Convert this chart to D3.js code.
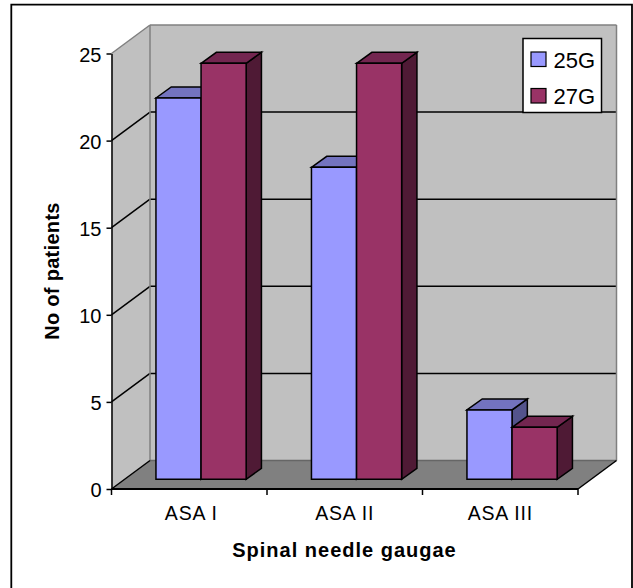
<!DOCTYPE html>
<html><head><meta charset="utf-8">
<script src="https://cdn.jsdelivr.net/npm/d3@7"></script>
<style>html,body{margin:0;padding:0;background:#fff}svg{display:block}text{font-family:"Liberation Sans",Arial,sans-serif;fill:#000}</style>
</head><body><svg id="c" width="633" height="588"></svg>
<script>
const categories=["ASA I","ASA II","ASA III"];
const seriesNames=["25G","27G"];
const values25G=[22,18,4];
const values27G=[24,24,3];
const yTicks=[0,5,10,15,20,25];
const faces={"25G":["#9999FF","#7373BF","#53538C"],"27G":["#993366","#732650","#4F1A35"]};

const svg=d3.select("#c");
const x0=111.5,x1=578,yB=489,yT=53.5,dx=38.5,dy=-28.5;
const y=d3.scaleLinear().domain([0,25]).range([yB,yT]);
const yBar=d3.scaleLinear().domain([0,25]).range([479.3,46]);
const x=d3.scaleBand().domain(categories).range([x0,x1]).paddingInner(0.42).paddingOuter(0.21);
const xs=d3.scaleBand().domain(seriesNames).range([0,x.bandwidth()]);
const poly=(pts,fill,stroke,sw)=>svg.append("polygon").attr("points",pts.map(p=>p.join(",")).join(" ")).attr("fill",fill).attr("stroke",stroke||"none").attr("stroke-width",sw||0).attr("stroke-linejoin","miter");
const line=(a,b,c,w)=>svg.append("line").attr("x1",a[0]).attr("y1",a[1]).attr("x2",b[0]).attr("y2",b[1]).attr("stroke",c).attr("stroke-width",w);

// frame
svg.append("path").attr("d","M11.3,588V4.7H632V588").attr("fill","none").attr("stroke","#000").attr("stroke-width",1.8);

// walls and floor
poly([[x0+dx,yT+dy],[x1+dx,yT+dy],[x1+dx,yB+dy],[x0+dx,yB+dy]],"#C0C0C0");
poly([[x0,yT],[x0+dx,yT+dy],[x0+dx,yB+dy],[x0,yB]],"#C0C0C0");
poly([[x0,yB],[x0+dx,yB+dy],[x1+dx,yB+dy],[x1,yB]],"#808080");

// gridlines
yTicks.slice(1,-1).forEach(t=>{
  line([x0,y(t)],[x0+dx,y(t)+dy],"#000",1.5);
  line([x0+dx,y(t)+dy],[x1+dx,y(t)+dy],"#000",1.5);
});
// wall edges
line([x0,yT],[x0+dx,yT+dy],"#808080",1.5);
line([x0+dx,yT+dy],[x1+dx,yT+dy],"#808080",1.5);
line([x0+dx,yT+dy],[x0+dx,yB+dy],"#808080",1.5);
line([x1+dx,yT+dy],[x1+dx,yB+dy],"#808080",1.5);
line([x0+dx,yB+dy],[x1+dx,yB+dy],"#666",1.5);
line([x0,yB],[x0+dx,yB+dy],"#000",1.5);
line([x1,yB],[x1+dx,yB+dy],"#000",1.5);

// axes
const yAxis=d3.axisLeft(y).tickValues(yTicks).tickSize(5).tickSizeOuter(0);
const gy=svg.append("g").attr("transform",`translate(${x0},0)`).call(yAxis);
gy.selectAll("path,line").attr("stroke","#000").attr("stroke-width",1.5);
gy.selectAll("text").attr("x",-10).attr("dy","0.38em").style("font-size","20px").style("font-family",'"Liberation Sans"').attr("fill","#000");
const edges=d3.range(0,categories.length+1).map(i=>x0+i*x.step());
const gx=svg.append("g").attr("transform",`translate(0,${yB})`);
gx.append("line").attr("x1",x0).attr("x2",x1).attr("stroke","#000").attr("stroke-width",1.8);
gx.selectAll(".t").data(edges).join("line").attr("x1",d=>d).attr("x2",d=>d).attr("y1",0).attr("y2",6).attr("stroke","#000").attr("stroke-width",1.5);
svg.selectAll(".cat").data(categories).join("text").attr("x",d=>x(d)+x.bandwidth()/2+(d==="ASA I"?2:0)).attr("y",520).attr("text-anchor","middle").style("font-size","19.5px").style("letter-spacing","0.8px").text(d=>d);

// bars
const frontDx=11.8, barDx=15.3, barDy=-11;
const bars=[];
categories.forEach((c,i)=>seriesNames.forEach((s,j)=>bars.push({c,s,v:(j?values27G:values25G)[i]})));
bars.forEach(b=>{
  const l=x(b.c)+xs(b.s)+frontDx, r=l+xs.bandwidth(), t=yBar(b.v), bt=yBar(0);
  const f=faces[b.s];
  poly([[r,t],[r+barDx,t+barDy],[r+barDx,bt+barDy],[r,bt]],f[2],"#000",1.5);
  poly([[l,t],[l+barDx,t+barDy],[r+barDx,t+barDy],[r,t]],f[1],"#000",1.5);
  poly([[l,t],[r,t],[r,bt],[l,bt]],f[0],"#000",1.5);
});

// axis titles
svg.append("text").attr("transform","translate(59,271) rotate(-90)").attr("text-anchor","middle").style("font-size","20px").style("font-weight","bold").style("letter-spacing","0.3px").text("No of patients");
svg.append("text").attr("x",344.5).attr("y",557).attr("text-anchor","middle").style("font-size","20px").style("font-weight","bold").style("letter-spacing","1px").text("Spinal needle gaugae");

// legend
svg.append("rect").attr("x",523).attr("y",38.5).attr("width",78.5).attr("height",74).attr("fill","#fff").attr("stroke","#000").attr("stroke-width",1.5);
const ly=d3.scalePoint().domain(seriesNames).range([59,95.5]);
seriesNames.forEach(s=>{
  svg.append("rect").attr("x",531).attr("y",ly(s)-7).attr("width",15).attr("height",14.5).attr("fill",faces[s][0]).attr("stroke","#000").attr("stroke-width",1.2);
  svg.append("text").attr("x",553.5).attr("y",ly(s)+8.5).style("font-size","22px").text(s);
});
</script></body></html>
